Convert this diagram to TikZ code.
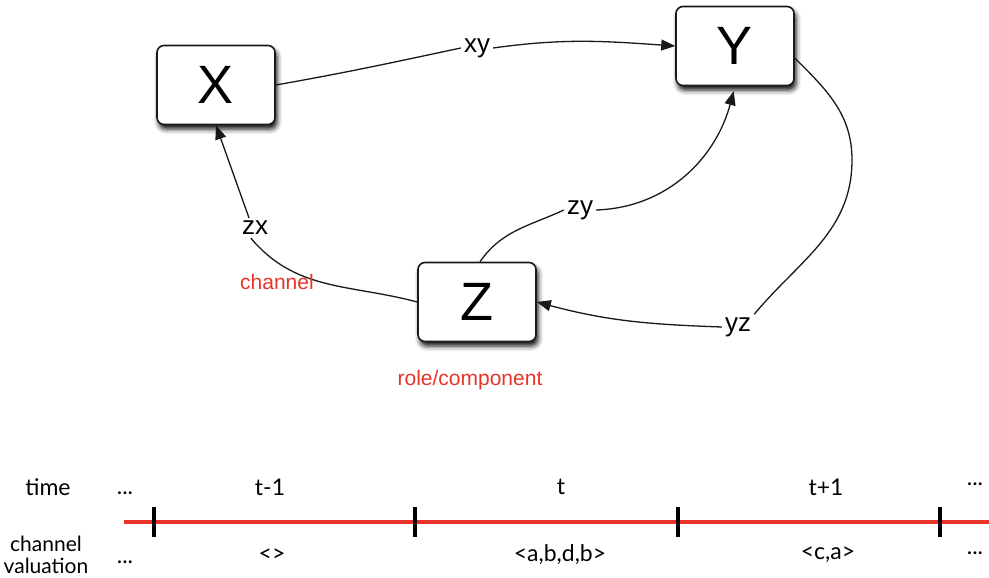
\documentclass[tikz,border=0pt]{standalone}
\usepackage{fontspec}
\setmainfont{Liberation Sans}
\newfontfamily\gill{Lato}
\usetikzlibrary{shadows.blur,arrows.meta}
\definecolor{chred}{RGB}{232,52,40}
\begin{document}
\begin{tikzpicture}[x=1pt,y=1pt,
  box/.style={draw=black!90, line width=1.6pt, rounded corners=7pt, fill=white,
    minimum width=118pt, minimum height=79pt, font=\fontsize{54}{60}\selectfont,
    blur shadow={shadow xshift=2pt, shadow yshift=-4.5pt, shadow blur radius=5pt, shadow opacity=95}},
  elab/.style={font=\fontsize{26}{30}\selectfont, inner sep=3pt},
  conn/.style={line width=1.3pt, draw=black!90},
  arr/.style={conn, -{Triangle[length=14pt,width=11pt]}},
  redlab/.style={text=chred, font=\fontsize{21}{25}\selectfont},
  tl/.style={font=\gill\fontsize{23}{23}\selectfont, align=center},
  tick/.style={line width=3.5pt, black}
]
\useasboundingbox (0,0) rectangle (989,-578);

% boxes
\node[box] (X) at (216,-85) {X};
\node[box] (Y) at (735,-46) {Y};
\node[box] (Z) at (477,-302) {Z};

% edge labels
\node[elab] (xy) at (477,-48) {xy};
\node[elab] (zy) at (580,-210) {zy};
\node[elab] (zx) at (255,-228) {zx};
\node[elab] (yz) at (738,-327) {yz};

% connectors
\draw[conn] (X.east) to[out=10,in=-168] (xy.west);
\draw[arr] (xy.east) to[out=8,in=176] (Y.west);

\draw[conn] ([xshift=3pt]Z.north) to[out=55,in=-155] (zy.west);
\draw[arr, shorten >=5pt] (zy.east) to[out=2,in=-105] (Y.south);

\draw[conn] ([xshift=12pt]zx.south west) to[out=-50,in=165] (Z.west);
\draw[arr] ([xshift=-6pt]zx.north) -- (X.south);

\draw[conn] ([yshift=-12pt]Y.east) to[out=-45,in=90] (852,-160) to[out=-90,in=50] (yz.north east);
\draw[arr] (yz.west) to[out=178,in=-15] (Z.east);

% red annotations
\node[redlab] (chan) at (277,-282) {channel};
\node[redlab] (role) at (470,-380) {role/component};

% timeline
\coordinate (L0) at (124,-522);
\coordinate (L1) at (989,-522);
\draw[chred, line width=4.5pt] (L0) -- (L1);
\foreach \x in {154,415,678,940}{
  \draw[tick] (\x,-507) -- (\x,-537);
}

\node[tl] (time) at (48,-487) {time};
\node[tl, anchor=base] (d1) at (125,-494) {...};
\node[tl] (tm) at (270,-487) {t-1};
\node[tl] (t0) at (561,-487) {t};
\node[tl] (tp) at (826,-487) {t+1};
\node[tl, anchor=base] (d2) at (975,-485) {...};

\node[tl, font=\gill\fontsize{21}{22}\selectfont, inner sep=1pt] (cv) at (46,-555) {channel\\valuation};
\node[tl, anchor=base] (d3) at (125,-563) {...};
\node[tl] (v1) at (272,-555) {<>};
\node[tl] (v2) at (560,-555) {<a,b,d,b>};
\node[tl] (v3) at (828,-555) {<c,a>};
\node[tl, anchor=base] (d4) at (975,-554) {...};
\end{tikzpicture}
\end{document}
